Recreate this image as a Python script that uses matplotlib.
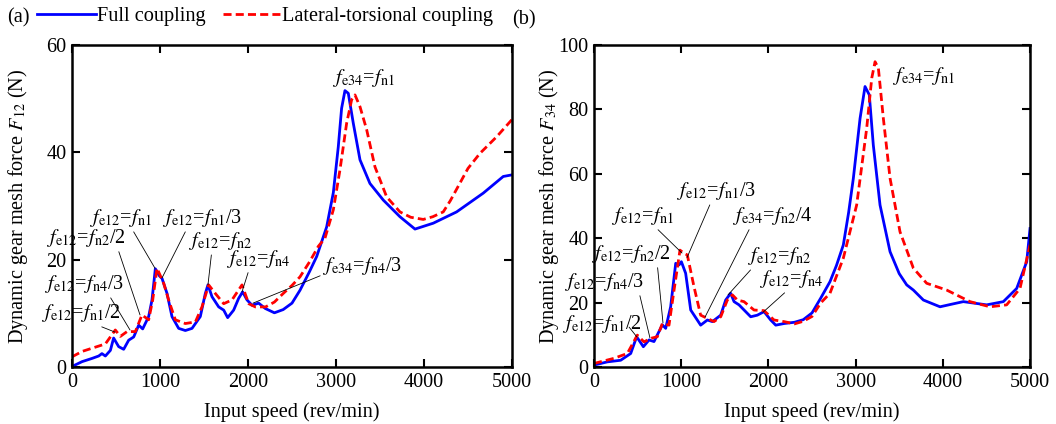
import numpy as np
import matplotlib
matplotlib.use("Agg")
import matplotlib.pyplot as plt

plt.rcParams['font.family'] = ['Liberation Serif', 'DejaVu Serif']
plt.rcParams['mathtext.fontset'] = 'stix'
FS = 14.6

# Panel (a): dynamic mesh force F12
a_full_x = [0, 114, 227, 303, 340, 379, 436, 473, 530, 587, 644, 701, 758, 803, 871, 909,
            947, 992, 1023, 1080, 1136, 1212, 1288, 1364, 1458, 1515, 1545, 1591, 1667,
            1724, 1769, 1837, 1894, 1939, 1989, 2046, 2121, 2197, 2300, 2400, 2500, 2591,
            2700, 2781, 2894, 2970, 3026, 3064, 3102, 3140, 3197, 3273, 3386, 3538, 3727,
            3898, 4106, 4371, 4674, 4901, 5000]
a_full_y = [0.1, 1.0, 1.6, 2.05, 2.5, 2.05, 3.1, 5.4, 3.8, 3.3, 5.0, 5.6, 7.8, 7.1, 9.4, 12.5,
            18.3, 17.0, 16.5, 13.7, 9.4, 7.2, 6.8, 7.2, 9.4, 13.7, 15.3, 13.1, 11.2,
            10.6, 9.2, 10.6, 12.8, 14.0, 12.5, 11.5, 11.9, 10.9, 10.1, 10.7, 11.9, 14.3,
            17.8, 20.6, 26.1, 32.5, 41.0, 48.2, 51.5, 51.0, 45.4, 38.6, 34.2, 31.1, 28.0,
            25.7, 26.8, 28.9, 32.4, 35.5, 35.8]
a_lat_x = [0, 114, 227, 379, 492, 549, 625, 720, 795, 871, 917, 966, 1042, 1098, 1174, 1288,
           1402, 1477, 1553, 1629, 1724, 1818, 1932, 2008, 2083, 2200, 2300, 2400, 2500,
           2591, 2700, 2800, 2875, 2970, 3045, 3121, 3178, 3216, 3273, 3349, 3443, 3576,
           3727, 3850, 3992, 4100, 4219, 4300, 4400, 4500, 4636, 4826, 5000]
a_lat_y = [1.9, 2.9, 3.5, 4.3, 6.9, 5.7, 6.6, 6.6, 9.7, 8.8, 12.5, 18.4, 15.6, 12.5, 8.8, 8.1,
           8.4, 11.2, 15.3, 13.7, 11.8, 12.5, 15.3, 11.8, 11.2, 11.2, 12.1, 13.7, 15.2,
           16.8, 19.6, 22.5, 24.0, 29.3, 36.7, 45.4, 49.8, 50.7, 48.5, 44.2, 37.3, 31.7,
           28.9, 27.9, 27.5, 28.0, 28.9, 31.0, 34.0, 37.0, 39.8, 42.9, 46.1]

# Panel (b): dynamic mesh force F34
b_full_x = [0, 153, 306, 421, 489, 566, 631, 688, 745, 784, 822, 879, 937, 975, 1002, 1051,
            1109, 1223, 1300, 1357, 1453, 1510, 1567, 1606, 1663, 1739, 1797, 1873, 1950,
            2026, 2084, 2179, 2300, 2400, 2500, 2600, 2706, 2780, 2859, 2920, 2974, 3051,
            3108, 3157, 3203, 3280, 3395, 3500, 3586, 3662, 3777, 3968, 4100, 4235, 4503,
            4694, 4847, 4962, 5000]
b_full_y = [0.6, 1.6, 2.1, 4.2, 9.4, 6.3, 8.4, 7.9, 11.0, 13.1, 12.0, 18.7, 32.2, 31.7, 32.7,
            29.1, 17.7, 13.0, 14.6, 14.1, 16.1, 20.8, 22.9, 20.3, 19.3, 17.2, 15.6, 16.1,
            17.2, 14.6, 13.0, 13.5, 13.9, 14.7, 16.8, 21.4, 26.5, 31.5, 37.9, 48.0, 58.6,
            77.2, 87.1, 84.5, 68.9, 50.3, 35.8, 29.0, 25.5, 23.9, 20.8, 18.7, 19.5, 20.3,
            19.3, 20.3, 24.4, 32.7, 43.0]
b_lat_x = [0, 229, 382, 497, 573, 650, 726, 784, 860, 918, 986, 1032, 1070, 1147, 1223, 1300,
           1376, 1453, 1529, 1587, 1644, 1720, 1835, 1950, 2064, 2179, 2300, 2400, 2500,
           2600, 2706, 2859, 3012, 3127, 3185, 3223, 3261, 3318, 3395, 3509, 3662, 3815,
           4044, 4312, 4541, 4732, 4885, 5000]
b_lat_y = [1.1, 2.7, 4.2, 9.9, 7.8, 8.9, 9.4, 13.5, 13.0, 23.9, 36.3, 35.3, 34.8, 24.9, 16.1,
           15.1, 14.1, 15.6, 20.8, 22.4, 20.8, 20.3, 17.7, 17.5, 14.6, 14.1, 13.4, 14.2,
           15.7, 19.9, 22.9, 33.8, 50.3, 74.1, 89.7, 94.8, 92.8, 77.2, 58.6, 42.0, 30.7,
           26.0, 23.9, 20.3, 18.7, 19.3, 24.4, 37.9]

# annotations: (label, point x, point y, text x, text y, leader start on text box)
a_notes = [
    (r'$f_{\rm e12}$=$f_{\rm n1}$/2', 489, 6.5, -341, 8.0, (0.67, 0.0)),
    (r'$f_{\rm e12}$=$f_{\rm n4}$/3', 659, 6.9, -307, 13.4, (0.81, 0.0)),
    (r'$f_{\rm e12}$=$f_{\rm n2}$/2', 773, 9.7, -284, 22.0, (0.9, 0.0)),
    (r'$f_{\rm e12}$=$f_{\rm n1}$', 943, 18.4, 205, 25.7, (0.68, 0.0)),
    (r'$f_{\rm e12}$=$f_{\rm n1}$/3', 1023, 16.6, 1034, 25.7, (0.3, 0.0)),
    (r'$f_{\rm e12}$=$f_{\rm n2}$', 1545, 15.3, 1330, 21.4, (0.36, 0.0)),
    (r'$f_{\rm e12}$=$f_{\rm n4}$', 1932, 14.0, 1761, 18.1, (0.35, 0.0)),
    (r'$f_{\rm e34}$=$f_{\rm n4}$/3', 2057, 11.9, 2852, 16.8, (0.0, 0.1)),
]
b_notes = [
    (r'$f_{\rm e12}$=$f_{\rm n1}$/2', 493, 9.3, -356, 10.0, (0.84, 0.35)),
    (r'$f_{\rm e12}$=$f_{\rm n4}$/3', 642, 9.0, -333, 23.0, (0.94, 0.0)),
    (r'$f_{\rm e12}$=$f_{\rm n2}$/2', 791, 13.7, -23, 31.7, (0.83, 0.0)),
    (r'$f_{\rm e12}$=$f_{\rm n1}$', 1009, 35.4, 206, 43.5, (0.7, 0.0)),
    (r'$f_{\rm e12}$=$f_{\rm n1}$/3', 1067, 34.0, 952, 51.2, (0.43, 0.0)),
    (r'$f_{\rm e34}$=$f_{\rm n2}$/4', 1273, 15.5, 1594, 43.5, (0.22, 0.0)),
    (r'$f_{\rm e12}$=$f_{\rm n2}$', 1537, 22.4, 1766, 31.0, (0.08, 0.0)),
    (r'$f_{\rm e12}$=$f_{\rm n4}$', 1938, 17.0, 1904, 23.9, (0.44, 0.0)),
]

fig = plt.figure(figsize=(10.56, 4.24), dpi=100)
ax1 = fig.add_axes([0.0682, 0.1344, 0.4166, 0.7595])
ax2 = fig.add_axes([0.5625, 0.1344, 0.4129, 0.7595])


def style_axis(ax, ymax, ystep, ylabel, ypad):
    ax.set_xlim(0, 5000)
    ax.set_ylim(0, ymax)
    ax.set_xticks(np.arange(0, 5001, 1000))
    ax.set_yticks(np.arange(0, ymax + 1, ystep))
    ax.tick_params(direction='in', top=True, right=True, length=6, width=1.5,
                   labelsize=FS, pad=4)
    for s in ax.spines.values():
        s.set_linewidth(1.8)
    ax.set_xlabel('Input speed (rev/min)', fontsize=FS, labelpad=8)
    ax.set_ylabel(ylabel, fontsize=FS, labelpad=ypad)


def add_notes(ax, notes):
    for label, px, py, tx, ty, rp in notes:
        ax.annotate(label, xy=(px, py), xytext=(tx, ty), textcoords='data',
                    fontsize=FS, ha='left', va='bottom', annotation_clip=False,
                    arrowprops=dict(arrowstyle='-', color='black', lw=0.6,
                                    shrinkA=0, shrinkB=0, relpos=rp))


dash = (0, (2.9, 1.5))
l1, = ax1.plot(a_full_x, a_full_y, color='#0000ff', lw=2, label='Full coupling')
l2, = ax1.plot(a_lat_x, a_lat_y, color='#ff0000', lw=2, ls=dash,
               label='Lateral-torsional coupling')
style_axis(ax1, 60, 20, r'Dynamic gear mesh force $F_{12}$ (N)', 12)
add_notes(ax1, a_notes)
ax1.text(2966, 51.8, r'$f_{\rm e34}$=$f_{\rm n1}$', fontsize=FS, ha='left', va='bottom')

ax2.plot(b_full_x, b_full_y, color='#0000ff', lw=2)
ax2.plot(b_lat_x, b_lat_y, color='#ff0000', lw=2, ls=dash)
style_axis(ax2, 100, 20, r'Dynamic gear mesh force $F_{34}$ (N)', -2)
add_notes(ax2, b_notes)
ax2.text(3429, 87.0, r'$f_{\rm e34}$=$f_{\rm n1}$', fontsize=FS, ha='left', va='bottom')

fig.text(0.007, 0.957, '(a)', fontsize=FS, va='center')
fig.text(0.485, 0.952, '(b)', fontsize=FS, va='center')
fig.legend(handles=[l1, l2], loc='center left', bbox_to_anchor=(0.035, 0.962), ncol=2,
           frameon=False, fontsize=FS, handlelength=2.9, handletextpad=0.05,
           columnspacing=0.85, borderpad=0, borderaxespad=0)

fig.savefig('out.png', dpi=100)
